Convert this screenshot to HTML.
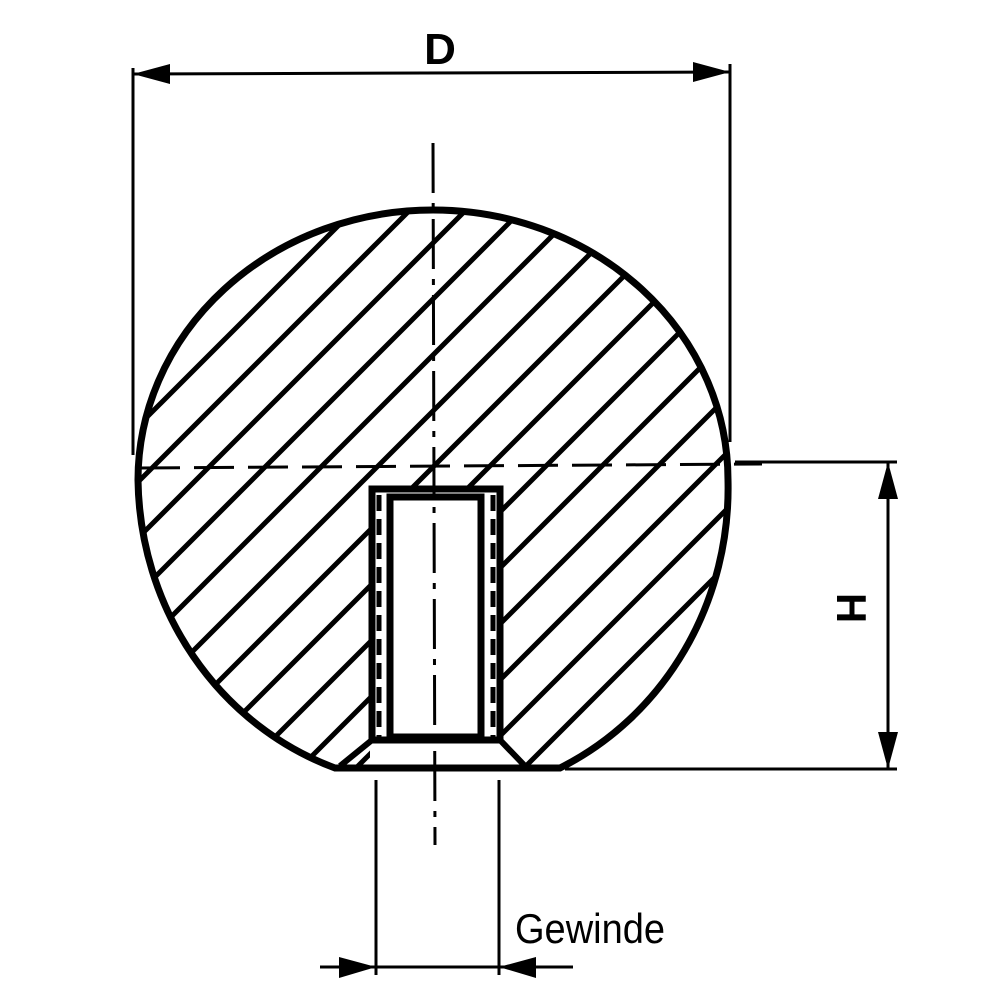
<!DOCTYPE html>
<html><head><meta charset="utf-8"><style>html,body{margin:0;padding:0;background:#fff;width:1000px;height:1000px;overflow:hidden}svg{display:block}</style></head>
<body>
<svg width="1000" height="1000" viewBox="0 0 1000 1000" xmlns="http://www.w3.org/2000/svg">
<defs>
<clipPath id="ball">
<path d="M138,480 A295,270 0 0 1 728,480 A295,310 0 0 1 560,768 L502,768 L502,487 L370,487 L370,768 L335,768 A295,310 0 0 1 138,480 Z"/>
</clipPath>
</defs>
<g clip-path="url(#ball)" stroke="#000" stroke-width="5">
<line x1="0" y1="284" x2="1000" y2="-716"/>
<line x1="0" y1="340" x2="1000" y2="-660"/>
<line x1="0" y1="396" x2="1000" y2="-604"/>
<line x1="0" y1="452" x2="1000" y2="-548"/>
<line x1="0" y1="508" x2="1000" y2="-492"/>
<line x1="0" y1="564" x2="1000" y2="-436"/>
<line x1="0" y1="620" x2="1000" y2="-380"/>
<line x1="0" y1="676" x2="1000" y2="-324"/>
<line x1="0" y1="732" x2="1000" y2="-268"/>
<line x1="0" y1="788" x2="1000" y2="-212"/>
<line x1="0" y1="844" x2="1000" y2="-156"/>
<line x1="0" y1="900" x2="1000" y2="-100"/>
<line x1="0" y1="956" x2="1000" y2="-44"/>
<line x1="0" y1="1012" x2="1000" y2="12"/>
<line x1="0" y1="1068" x2="1000" y2="68"/>
<line x1="0" y1="1124" x2="1000" y2="124"/>
<line x1="0" y1="1180" x2="1000" y2="180"/>
<line x1="0" y1="1236" x2="1000" y2="236"/>
<line x1="0" y1="1292" x2="1000" y2="292"/>
<line x1="0" y1="1348" x2="1000" y2="348"/>
<line x1="0" y1="1404" x2="1000" y2="404"/>
<line x1="0" y1="1460" x2="1000" y2="460"/>
</g>
<path d="M138,480 A295,270 0 0 1 728,480 A295,310 0 0 1 560,768 L335,768 A295,310 0 0 1 138,480 Z" fill="none" stroke="#000" stroke-width="7"/>
<rect x="372" y="489" width="128" height="251" fill="#fff" stroke="#000" stroke-width="7"/>
<rect x="390" y="497" width="91" height="240" fill="#fff" stroke="#000" stroke-width="7"/>
<line x1="379" y1="495" x2="379" y2="740" stroke="#000" stroke-width="5" stroke-dasharray="16,8"/>
<line x1="493" y1="495" x2="493" y2="740" stroke="#000" stroke-width="5" stroke-dasharray="16,8"/>
<path d="M372,740 L340,766 M500,740 L525,766" stroke="#000" stroke-width="6" fill="none"/>
<line x1="372" y1="740" x2="500" y2="740" stroke="#000" stroke-width="7"/>
<line x1="140" y1="468" x2="762" y2="464" stroke="#000" stroke-width="3" stroke-dasharray="40,14"/>
<line x1="433" y1="143" x2="435" y2="845" stroke="#000" stroke-width="3" stroke-dasharray="50,10,6,10"/>
<line x1="133" y1="68" x2="133" y2="455" stroke="#000" stroke-width="3"/>
<line x1="730" y1="64" x2="730" y2="442" stroke="#000" stroke-width="3"/>
<line x1="133" y1="74" x2="730" y2="72" stroke="#000" stroke-width="3"/>
<polygon points="133,74 170,64 170,84" fill="#000"/>
<polygon points="730,72 693,62 693,82" fill="#000"/>
<text x="440" y="64" font-family="Liberation Sans, sans-serif" font-weight="bold" font-size="44" text-anchor="middle">D</text>
<line x1="735" y1="462" x2="897" y2="462" stroke="#000" stroke-width="3"/>
<line x1="565" y1="769" x2="897" y2="769" stroke="#000" stroke-width="3"/>
<line x1="888" y1="462" x2="888" y2="769" stroke="#000" stroke-width="3"/>
<polygon points="888,462 878,499 898,499" fill="#000"/>
<polygon points="888,769 878,732 898,732" fill="#000"/>
<text x="0" y="0" transform="translate(837,608) rotate(90)" font-family="Liberation Sans, sans-serif" font-weight="bold" font-size="42" text-anchor="middle">H</text>
<line x1="376" y1="780" x2="376" y2="975" stroke="#000" stroke-width="3"/>
<line x1="499" y1="780" x2="499" y2="975" stroke="#000" stroke-width="3"/>
<line x1="320" y1="967" x2="573" y2="967" stroke="#000" stroke-width="3"/>
<polygon points="376,967 339,957 339,978" fill="#000"/>
<polygon points="499,967 536,957 536,978" fill="#000"/>
<text x="515" y="943" font-family="Liberation Sans, sans-serif" font-size="42" textLength="150" lengthAdjust="spacingAndGlyphs">Gewinde</text>
</svg>
</body></html>
